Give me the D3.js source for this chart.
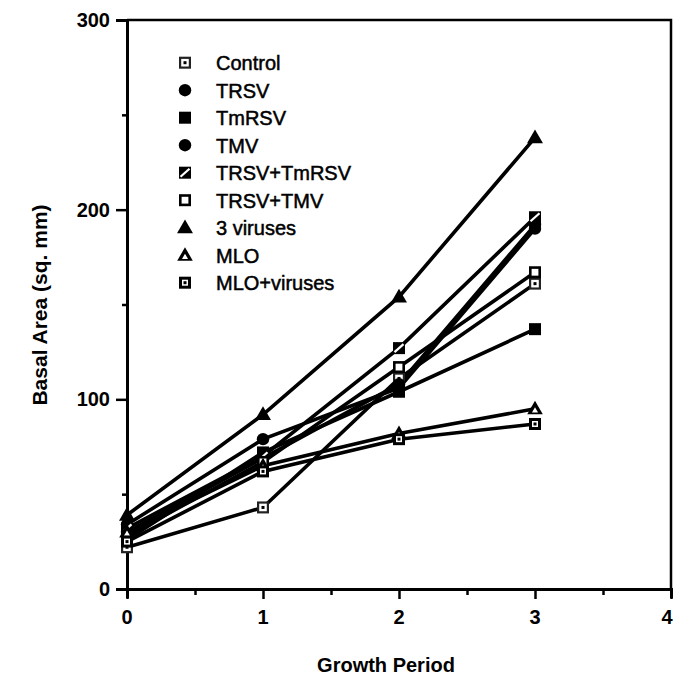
<!DOCTYPE html>
<html>
<head>
<meta charset="utf-8">
<script src="https://cdn.jsdelivr.net/npm/d3@7"></script>
<style>
  body { margin: 0; background: #fff; }
  svg { display: block; font-family: "Liberation Sans", Arial, sans-serif; }
</style>
</head>
<body>
<svg width="675" height="677"></svg>
<script>
'use strict';

const periods = [0, 1, 2, 3];
const seriesNames = ["Control", "TRSV", "TmRSV", "TMV", "TRSV+TmRSV", "TRSV+TMV", "3 viruses", "MLO", "MLO+viruses"];
const control = [22, 43, 111, 161];
const trsv = [34, 79, 106, 190];
const tmrsv = [26, 72, 104, 137];
const tmv = [30, 69, 108, 192];
const trsvTmrsv = [32, 70, 127, 196];
const trsvTmv = [28, 67, 117, 167];
const threeViruses = [39, 92, 154, 238];
const mlo = [30, 65, 82, 95];
const mloViruses = [25, 62, 79, 87];
const xTicks = [0, 1, 2, 3, 4];
const yTicks = [0, 100, 200, 300];

const seriesValues = [control, trsv, tmrsv, tmv, trsvTmrsv, trsvTmv, threeViruses, mlo, mloViruses];
const markers = ["control", "circle", "fsquare", "circle", "half", "osquare", "ftri", "otri", "dsquare"];

const svg = d3.select("svg");
const plotLeft = 127, plotRight = 671, plotTop = 20, plotBottom = 589;

const x = d3.scaleLinear().domain([0, 4]).range([plotLeft, plotRight]);
const y = d3.scaleLinear().domain([0, 300]).range([plotBottom, plotTop]);

// frame (top + right)
svg.append("path")
	.attr("d", `M${plotLeft},${plotTop}H${plotRight}V${plotBottom}`)
	.attr("fill", "none")
	.attr("stroke", "#000")
	.attr("stroke-width", 2.5);

// axes
const xAxis = svg.append("g")
	.attr("transform", `translate(0,${plotBottom})`)
	.call(d3.axisBottom(x).tickValues(d3.range(0, 4.01, 0.5)).tickSize(9).tickFormat(""));
xAxis.selectAll(".tick line")
	.attr("stroke-width", 2.5)
	.attr("y2", d => Number.isInteger(d) ? 10 : 6);

const yAxis = svg.append("g")
	.attr("transform", `translate(${plotLeft},0)`)
	.call(d3.axisLeft(y).tickValues(d3.range(0, 301, 50)).tickSize(11).tickFormat(""));
yAxis.selectAll(".tick line")
	.attr("stroke-width", 2.5)
	.attr("x2", d => d % 100 === 0 ? -11 : -5);

[xAxis, yAxis].forEach(a => a.select(".domain").attr("stroke-width", 3));

// the last label sits at the page edge, keep it inside
svg.append("g").selectAll("text")
	.data(xTicks)
	.enter().append("text")
	.attr("x", d => Math.min(x(d), 667))
	.attr("y", 624)
	.attr("text-anchor", "middle")
	.attr("font-size", 20)
	.attr("font-weight", "bold")
	.text(d => d);

svg.append("g").selectAll("text")
	.data(yTicks)
	.enter().append("text")
	.attr("x", 110)
	.attr("y", d => y(d) + 7)
	.attr("text-anchor", "end")
	.attr("font-size", 20)
	.attr("font-weight", "bold")
	.text(d => d);

svg.append("text")
	.attr("x", 386)
	.attr("y", 672)
	.attr("text-anchor", "middle")
	.attr("font-size", 20)
	.attr("font-weight", "bold")
	.text("Growth Period");

svg.append("text")
	.attr("transform", "translate(47,305) rotate(-90)")
	.attr("text-anchor", "middle")
	.attr("font-size", 21)
	.attr("font-weight", "bold")
	.text("Basal Area (sq. mm)");

// lines
const line = d3.line()
	.x((d, i) => x(periods[i]))
	.y(d => y(d));

svg.append("g").selectAll("path")
	.data(seriesValues)
	.enter().append("path")
	.attr("d", d => line(d))
	.attr("fill", "none")
	.attr("stroke", "#000")
	.attr("stroke-width", 3.6);

function drawMarker(g, kind) {
	const s = 6;
	if (kind === "circle") {
		g.append("circle").attr("r", 6.2).attr("fill", "#000");
	} else if (kind === "fsquare") {
		g.append("rect").attr("x", -s).attr("y", -s).attr("width", 2 * s).attr("height", 2 * s).attr("fill", "#000");
	} else if (kind === "osquare") {
		g.append("rect").attr("x", -s + 1.3).attr("y", -s + 1.3).attr("width", 2 * s - 2.6).attr("height", 2 * s - 2.6)
			.attr("fill", "#fff").attr("stroke", "#000").attr("stroke-width", 2.6);
	} else if (kind === "half") {
		g.append("rect").attr("x", -s).attr("y", -s).attr("width", 2 * s).attr("height", 2 * s).attr("fill", "#000");
		g.append("line").attr("x1", -s + 1.5).attr("y1", s - 2).attr("x2", s - 1.5).attr("y2", -s + 2)
			.attr("stroke", "#fff").attr("stroke-width", 2.2);
	} else if (kind === "dsquare" || kind === "control") {
		const sw = kind === "control" ? 2.2 : 3;
		g.append("rect").attr("x", -s + sw / 2).attr("y", -s + sw / 2).attr("width", 2 * s - sw).attr("height", 2 * s - sw)
			.attr("fill", "#fff").attr("stroke", kind === "control" ? "#222" : "#000").attr("stroke-width", sw);
		g.append("rect").attr("x", -1.5).attr("y", -1.5).attr("width", 3).attr("height", 3).attr("fill", "#000");
	} else if (kind === "ftri") {
		g.append("path").attr("d", d3.symbol(d3.symbolTriangle, 110)()).attr("fill", "#000").attr("transform", "translate(0,1)");
	} else if (kind === "otri") {
		g.append("path").attr("d", d3.symbol(d3.symbolTriangle, 105)()).attr("fill", "#000").attr("transform", "translate(0,1)");
		g.append("path").attr("d", d3.symbol(d3.symbolTriangle, 16)()).attr("fill", "#fff").attr("transform", "translate(0,2)");
	}
}

// markers
seriesValues.forEach((vals, si) => {
	svg.append("g").selectAll("g")
		.data(vals)
		.enter().append("g")
		.attr("transform", (d, i) => `translate(${x(periods[i])},${y(d)})`)
		.each(function() { drawMarker(d3.select(this), markers[si]); });
});

// legend
const legend = svg.append("g").selectAll("g")
	.data(seriesNames)
	.enter().append("g")
	.attr("transform", (d, i) => `translate(185,${62.7 + i * 27.5})`);
legend.each(function(d, i) { drawMarker(d3.select(this), markers[i]); });
legend.append("text")
	.attr("x", 31)
	.attr("y", 7.5)
	.attr("font-size", 20)
	.attr("stroke", "#000")
	.attr("stroke-width", 0.5)
	.text(d => d);
</script>
</body>
</html>
